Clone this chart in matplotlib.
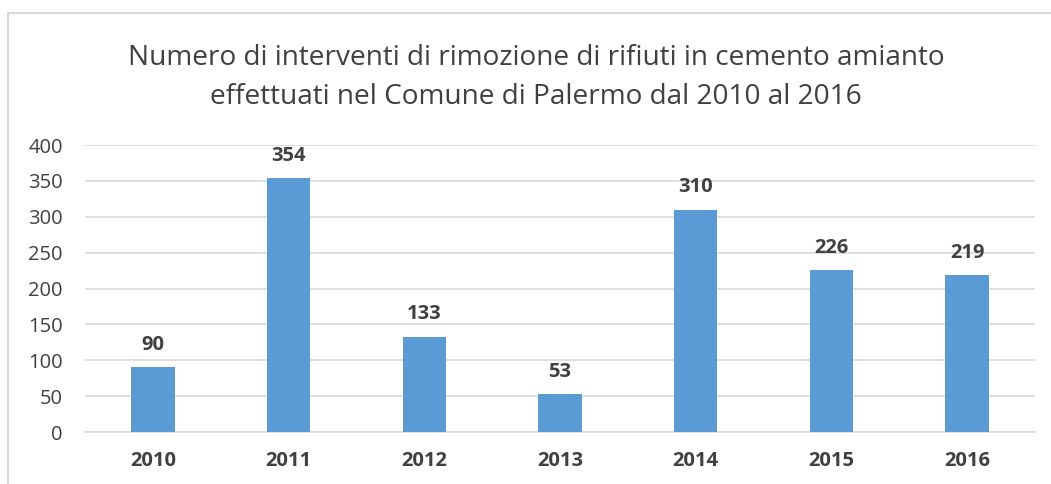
import matplotlib.pyplot as plt
from matplotlib.patches import Rectangle

years = ['2010', '2011', '2012', '2013', '2014', '2015', '2016']
interventi = [90, 354, 133, 53, 310, 226, 219]

plt.rcParams['font.family'] = ['Open Sans', 'DejaVu Sans']
text_col = '#404040'

fig = plt.figure(figsize=(10.51, 4.84), dpi=100)
ax = fig.add_axes([0.0809, 0.1074, 0.9039, 0.593])

# chart frame (only left and top edges visible in the original)
fig.patches.append(Rectangle((8 / 1051, -0.1), 1.2, 1 - 13 / 484 + 0.1,
                             transform=fig.transFigure, fill=False,
                             edgecolor='#D9D9D9', linewidth=1.5))

x = range(len(years))
bars = ax.bar(x, interventi, width=0.32, color='#5B9BD5', zorder=3)

for xi, v in zip(x, interventi):
    ax.text(xi, v + 17, str(v), ha='center', va='bottom', fontsize=14.5,
            fontweight='bold', color=text_col)

ax.set_xlim(-0.5, len(years) - 0.5)
ax.set_ylim(0, 400)
ax.set_yticks(range(0, 401, 50))
ax.yaxis.grid(True, color='#D9D9D9', linewidth=1.2, zorder=0)
ax.set_xticks(list(x))
ax.set_xticklabels(years, fontweight='bold')
ax.tick_params(axis='x', length=0, pad=14, labelsize=14.5, labelcolor=text_col)
ax.tick_params(axis='y', length=0, pad=16, labelsize=14.5, labelcolor=text_col)
for s in ['top', 'right', 'left']:
    ax.spines[s].set_visible(False)
ax.spines['bottom'].set_color('#D9D9D9')
ax.spines['bottom'].set_linewidth(1.2)

fig.text(0.51, 0.84, 'Numero di interventi di rimozione di rifiuti in cemento amianto\n'
         'effettuati nel Comune di Palermo dal 2010 al 2016',
         ha='center', va='center', fontsize=20.2, color=text_col, linespacing=1.55)

fig.savefig('out.png', dpi=100)
